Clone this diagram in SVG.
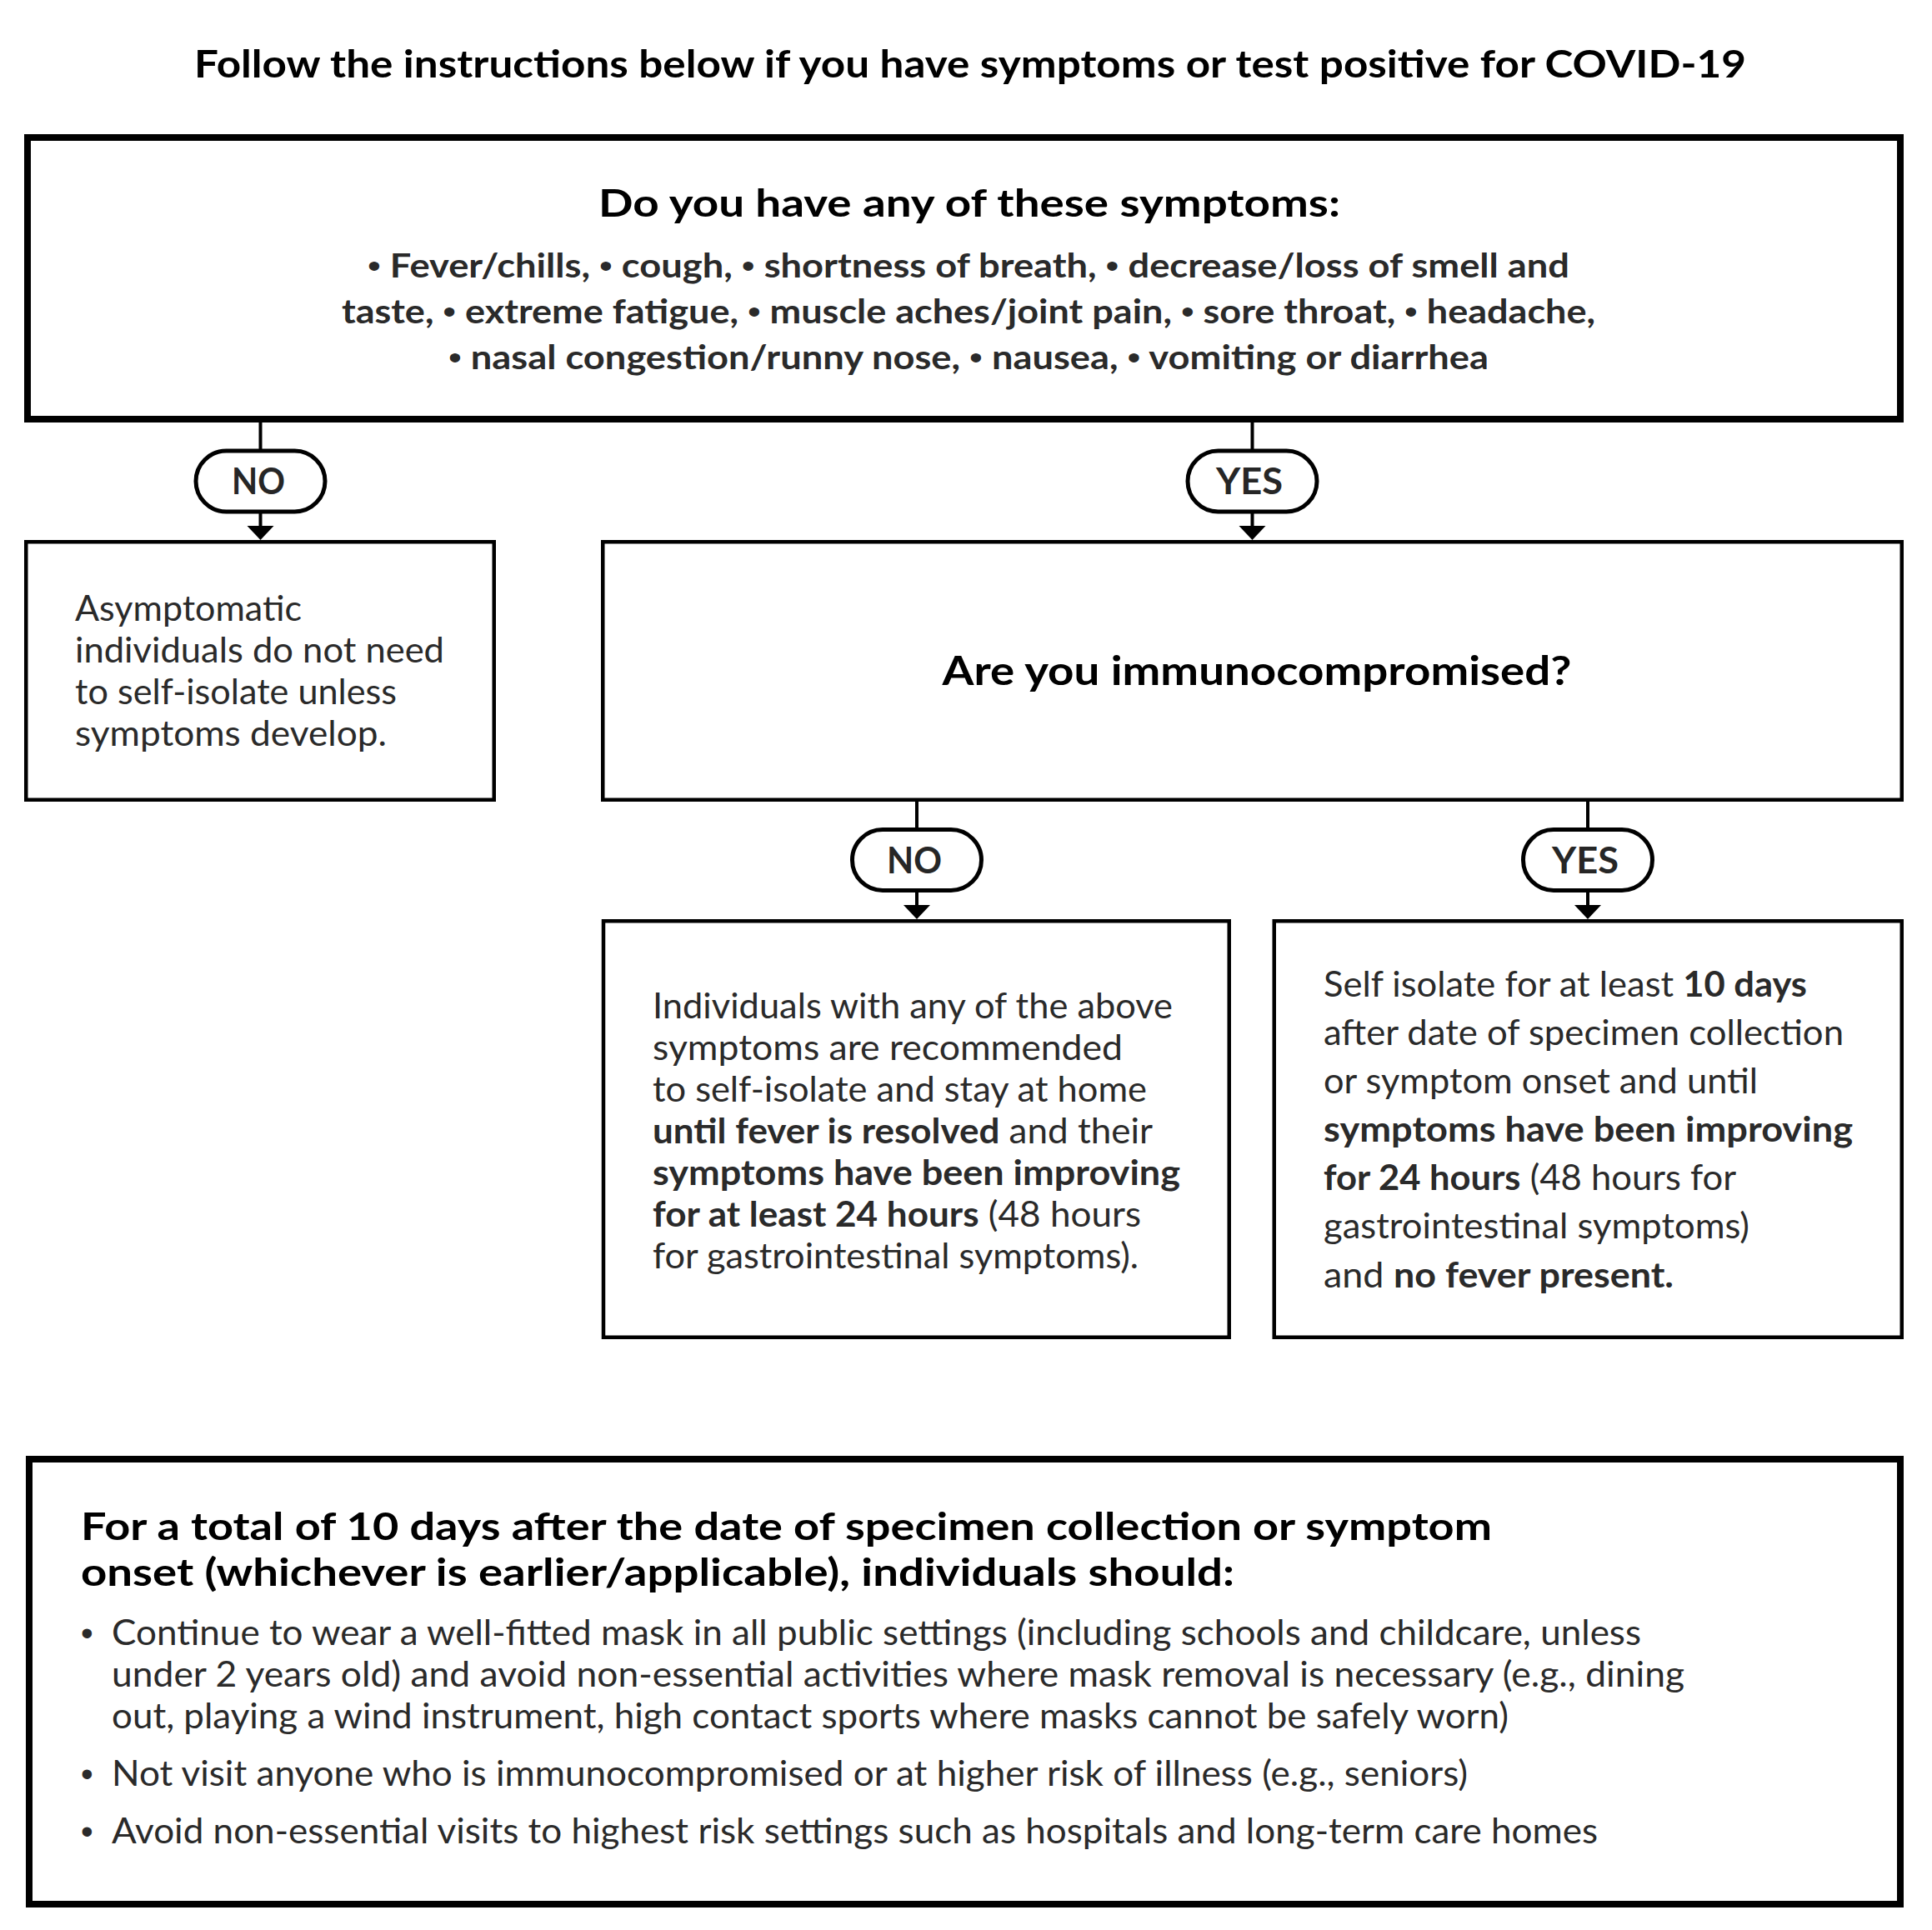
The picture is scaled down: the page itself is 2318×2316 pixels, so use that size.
<svg xmlns="http://www.w3.org/2000/svg" width="2318" height="2316" viewBox="0 0 2318 2316">
<style>
  text { font-family: Lato, "Liberation Sans", Arial, sans-serif; }
  .box { fill: #fff; stroke: #000; }
  .thick { stroke-width: 8; }
  .thin { stroke-width: 4.5; }
  .pill { fill: #fff; stroke: #000; stroke-width: 5; }
  .pilltxt { font-size: 44px; font-weight: 700; fill: #262626; text-anchor: middle; }
  .head { font-weight: 700; fill: #000; }
  .sym { font-size: 41px; font-weight: 700; fill: #2a2a2a; text-anchor: middle; }
  .body { font-size: 42px; fill: #2a2a2a; }
  .b { font-weight: 700; }
  .dot { font-family: "Liberation Sans", Arial, sans-serif; font-weight: 400; }
  .conn { stroke: #000; stroke-width: 4; fill: none; }
</style>
<defs>
  <marker id="arr" markerUnits="userSpaceOnUse" markerWidth="18" markerHeight="34" refX="0" refY="16" orient="auto" viewBox="0 0 18 34">
    <path d="M0,0 L17,16 L0,32 Z" fill="#000"/>
  </marker>
</defs>
<rect width="2318" height="2316" fill="#fff"/>

<g id="title">
  <text class="head" x="1164" y="93" font-size="46" text-anchor="middle" textLength="1862" lengthAdjust="spacingAndGlyphs">Follow the instructions below if you have symptoms or test positive for COVID-19</text>
</g>

<g id="connectors">
  <line class="conn" x1="312.5" y1="507" x2="312.5" y2="539"/>
  <line class="conn" x1="312.5" y1="616" x2="312.5" y2="631" marker-end="url(#arr)"/>
  <line class="conn" x1="1502.5" y1="507" x2="1502.5" y2="539"/>
  <line class="conn" x1="1502.5" y1="616" x2="1502.5" y2="631" marker-end="url(#arr)"/>
  <line class="conn" x1="1100" y1="962" x2="1100" y2="994"/>
  <line class="conn" x1="1100" y1="1071" x2="1100" y2="1086" marker-end="url(#arr)"/>
  <line class="conn" x1="1905" y1="962" x2="1905" y2="994"/>
  <line class="conn" x1="1905" y1="1071" x2="1905" y2="1086" marker-end="url(#arr)"/>
</g>

<g id="q-symptoms">
  <rect class="box thick" x="33" y="165" width="2247" height="338"/>
  <text class="head" x="1163" y="260" font-size="46" text-anchor="middle" textLength="890" lengthAdjust="spacingAndGlyphs">Do you have any of these symptoms:</text>
  <text class="sym" x="1162" y="333" textLength="1442" lengthAdjust="spacingAndGlyphs"><tspan class="dot">•</tspan> Fever/chills, <tspan class="dot">•</tspan> cough, <tspan class="dot">•</tspan> shortness of breath, <tspan class="dot">•</tspan> decrease/loss of smell and</text>
  <text class="sym" x="1162" y="388" textLength="1504" lengthAdjust="spacingAndGlyphs">taste, <tspan class="dot">•</tspan> extreme fatigue, <tspan class="dot">•</tspan> muscle aches/joint pain, <tspan class="dot">•</tspan> sore throat, <tspan class="dot">•</tspan> headache,</text>
  <text class="sym" x="1162" y="443" textLength="1248" lengthAdjust="spacingAndGlyphs"><tspan class="dot">•</tspan> nasal congestion/runny nose, <tspan class="dot">•</tspan> nausea, <tspan class="dot">•</tspan> vomiting or diarrhea</text>
</g>

<g id="pill-no-1">
  <rect class="pill" x="235" y="541" width="155" height="73" rx="36.5"/>
  <text class="pilltxt" x="310" y="593" textLength="64" lengthAdjust="spacingAndGlyphs">NO</text>
</g>
<g id="pill-yes-1">
  <rect class="pill" x="1425" y="541" width="155" height="73" rx="36.5"/>
  <text class="pilltxt" x="1499" y="593" textLength="80" lengthAdjust="spacingAndGlyphs">YES</text>
</g>

<g id="asymptomatic">
  <rect class="box thin" x="31.25" y="650.25" width="561.5" height="309.5"/>
  <text class="body" x="90" y="745" textLength="272" lengthAdjust="spacingAndGlyphs">Asymptomatic</text>
  <text class="body" x="90" y="795" textLength="443" lengthAdjust="spacingAndGlyphs">individuals do not need</text>
  <text class="body" x="90" y="845" textLength="386" lengthAdjust="spacingAndGlyphs">to self-isolate unless</text>
  <text class="body" x="90" y="895" textLength="374" lengthAdjust="spacingAndGlyphs">symptoms develop.</text>
</g>

<g id="q-immuno">
  <rect class="box thin" x="723.25" y="650.25" width="1558.5" height="309.5"/>
  <text class="head" x="1508" y="822" font-size="47" text-anchor="middle" textLength="755" lengthAdjust="spacingAndGlyphs">Are you immunocompromised?</text>
</g>

<g id="pill-no-2">
  <rect class="pill" x="1022.5" y="995.5" width="155" height="73" rx="36.5"/>
  <text class="pilltxt" x="1097" y="1048" textLength="66" lengthAdjust="spacingAndGlyphs">NO</text>
</g>
<g id="pill-yes-2">
  <rect class="pill" x="1827.5" y="995.5" width="155" height="73" rx="36.5"/>
  <text class="pilltxt" x="1902" y="1048" textLength="80" lengthAdjust="spacingAndGlyphs">YES</text>
</g>

<g id="not-immuno">
  <rect class="box thin" x="724" y="1105.25" width="750.75" height="499.5"/>
  <text class="body" x="783" y="1222" textLength="624" lengthAdjust="spacingAndGlyphs">Individuals with any of the above</text>
  <text class="body" x="783" y="1272" textLength="564" lengthAdjust="spacingAndGlyphs">symptoms are recommended</text>
  <text class="body" x="783" y="1322" textLength="593" lengthAdjust="spacingAndGlyphs">to self-isolate and stay at home</text>
  <text class="body" x="783" y="1372" textLength="600" lengthAdjust="spacingAndGlyphs"><tspan class="b">until fever is resolved</tspan> and their</text>
  <text class="body" x="783" y="1422" textLength="633" lengthAdjust="spacingAndGlyphs"><tspan class="b">symptoms have been improving</tspan></text>
  <text class="body" x="783" y="1472" textLength="586" lengthAdjust="spacingAndGlyphs"><tspan class="b">for at least 24 hours</tspan> (48 hours</text>
  <text class="body" x="783" y="1522" textLength="583" lengthAdjust="spacingAndGlyphs">for gastrointestinal symptoms).</text>
</g>

<g id="immuno">
  <rect class="box thin" x="1528.75" y="1105.25" width="753" height="499.5"/>
  <text class="body" x="1588" y="1196" textLength="580" lengthAdjust="spacingAndGlyphs">Self isolate for at least <tspan class="b">10 days</tspan></text>
  <text class="body" x="1588" y="1254" textLength="624" lengthAdjust="spacingAndGlyphs">after date of specimen collection</text>
  <text class="body" x="1588" y="1312" textLength="521" lengthAdjust="spacingAndGlyphs">or symptom onset and until</text>
  <text class="body" x="1588" y="1370" textLength="635" lengthAdjust="spacingAndGlyphs"><tspan class="b">symptoms have been improving</tspan></text>
  <text class="body" x="1588" y="1428" textLength="495" lengthAdjust="spacingAndGlyphs"><tspan class="b">for 24 hours</tspan> (48 hours for</text>
  <text class="body" x="1588" y="1486" textLength="511" lengthAdjust="spacingAndGlyphs">gastrointestinal symptoms)</text>
  <text class="body" x="1588" y="1545" textLength="420" lengthAdjust="spacingAndGlyphs">and <tspan class="b">no fever present.</tspan></text>
</g>

<g id="guidance">
  <rect class="box thick" x="35" y="1751" width="2245" height="534"/>
  <text class="head" x="97" y="1848" font-size="46" textLength="1693" lengthAdjust="spacingAndGlyphs">For a total of 10 days after the date of specimen collection or symptom</text>
  <text class="head" x="97" y="1903" font-size="46" textLength="1384" lengthAdjust="spacingAndGlyphs">onset (whichever is earlier/applicable), individuals should:</text>
  <text class="body dot" x="97" y="1974" font-size="34">•</text>
  <text class="body" x="134" y="1974" textLength="1835" lengthAdjust="spacingAndGlyphs">Continue to wear a well-fitted mask in all public settings (including schools and childcare, unless</text>
  <text class="body" x="134" y="2024" textLength="1887" lengthAdjust="spacingAndGlyphs">under 2 years old) and avoid non-essential activities where mask removal is necessary (e.g., dining</text>
  <text class="body" x="134" y="2074" textLength="1676" lengthAdjust="spacingAndGlyphs">out, playing a wind instrument, high contact sports where masks cannot be safely worn)</text>
  <text class="body dot" x="97" y="2143" font-size="34">•</text>
  <text class="body" x="134" y="2143" textLength="1627" lengthAdjust="spacingAndGlyphs">Not visit anyone who is immunocompromised or at higher risk of illness (e.g., seniors)</text>
  <text class="body dot" x="97" y="2212" font-size="34">•</text>
  <text class="body" x="134" y="2212" textLength="1783" lengthAdjust="spacingAndGlyphs">Avoid non-essential visits to highest risk settings such as hospitals and long-term care homes</text>
</g>
</svg>
